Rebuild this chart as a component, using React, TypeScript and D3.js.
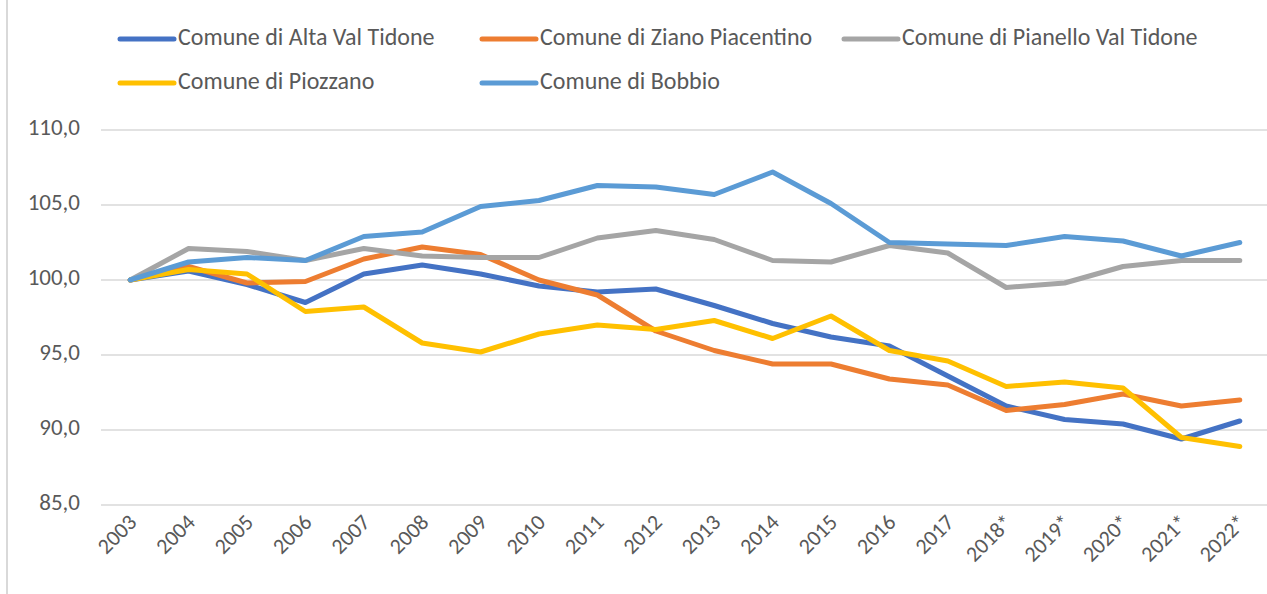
import { useEffect, useRef } from 'react';
import * as d3 from 'd3';

const years = ['2003', '2004', '2005', '2006', '2007', '2008', '2009', '2010', '2011', '2012',
  '2013', '2014', '2015', '2016', '2017', '2018*', '2019*', '2020*', '2021*', '2022*'];

const altaValTidone = [100, 100.6, 99.7, 98.5, 100.4, 101.0, 100.4, 99.6, 99.2, 99.4,
  98.3, 97.1, 96.2, 95.6, 93.6, 91.6, 90.7, 90.4, 89.4, 90.6];
const zianoPiacentino = [100, 100.9, 99.8, 99.9, 101.4, 102.2, 101.7, 100.0, 99.0, 96.6,
  95.3, 94.4, 94.4, 93.4, 93.0, 91.3, 91.7, 92.4, 91.6, 92.0];
const pianelloValTidone = [100, 102.1, 101.9, 101.3, 102.1, 101.6, 101.5, 101.5, 102.8, 103.3,
  102.7, 101.3, 101.2, 102.3, 101.8, 99.5, 99.8, 100.9, 101.3, 101.3];
const piozzano = [100, 100.7, 100.4, 97.9, 98.2, 95.8, 95.2, 96.4, 97.0, 96.7,
  97.3, 96.1, 97.6, 95.3, 94.6, 92.9, 93.2, 92.8, 89.5, 88.9];
const bobbio = [100, 101.2, 101.5, 101.3, 102.9, 103.2, 104.9, 105.3, 106.3, 106.2,
  105.7, 107.2, 105.1, 102.5, 102.4, 102.3, 102.9, 102.6, 101.6, 102.5];

const seriesNames = ['Comune di Alta Val Tidone', 'Comune di Ziano Piacentino', 'Comune di Pianello Val Tidone',
  'Comune di Piozzano', 'Comune di Bobbio'];
const seriesColors = ['#4472C4', '#ED7D31', '#A5A5A5', '#FFC000', '#5B9BD5'];
const yTicks = [85, 90, 95, 100, 105, 110];

export default function App() {
  const svgRef = useRef<SVGSVGElement>(null);

  useEffect(() => {
    if (!svgRef.current) return;
    const svg = d3.select(svgRef.current);
    svg.selectAll('*').remove();

    const width = 1267;
    const height = 594;
    const font = 'Calibri, Carlito, "Open Sans", sans-serif';
    const textColor = '#595959';

    const x = d3.scaleBand<string>().domain(years).range([101, 1269]);
    const y = d3.scaleLinear().domain([85, 110]).range([505, 130]);

    // chart border (left edge only visible)
    svg.append('line')
      .attr('x1', 7).attr('x2', 7).attr('y1', 0).attr('y2', height)
      .attr('stroke', '#D9D9D9').attr('stroke-width', 2);

    // gridlines
    svg.append('g')
      .selectAll('line')
      .data(yTicks)
      .join('line')
      .attr('x1', 101).attr('x2', width)
      .attr('y1', d => y(d)).attr('y2', d => y(d))
      .attr('stroke', '#D9D9D9').attr('stroke-width', 1.5);

    // y labels
    svg.append('g')
      .selectAll('text')
      .data(yTicks)
      .join('text')
      .attr('x', 80)
      .attr('y', d => y(d))
      .attr('text-anchor', 'end')
      .attr('dominant-baseline', 'middle')
      .style('fill', textColor)
      .style('font-family', font)
      .style('font-size', '23px')
      .text(d => d.toFixed(1).replace('.', ','));

    // x labels
    svg.append('g')
      .selectAll('text')
      .data(years)
      .join('text')
      .attr('transform', d => `translate(${x(d)! + x.bandwidth() / 2 + 4}, 520) rotate(-45)`)
      .attr('text-anchor', 'end')
      .attr('dominant-baseline', 'middle')
      .style('fill', textColor)
      .style('font-family', font)
      .style('font-size', '22px')
      .text(d => d);

    const allSeries = [altaValTidone, zianoPiacentino, pianelloValTidone, piozzano, bobbio];
    const line = d3.line<number>()
      .x((_, i) => x(years[i])! + x.bandwidth() / 2)
      .y(d => y(d));

    allSeries.forEach((vals, i) => {
      svg.append('path')
        .datum(vals)
        .attr('d', line)
        .attr('fill', 'none')
        .attr('stroke', seriesColors[i])
        .attr('stroke-width', 5)
        .attr('stroke-linejoin', 'round')
        .attr('stroke-linecap', 'round');
    });

    // legend
    const legendPos = [[118, 39], [480, 39], [842, 39], [118, 83], [480, 83]];
    seriesNames.forEach((name, i) => {
      const [lx, ly] = legendPos[i];
      const g = svg.append('g').attr('transform', `translate(${lx}, ${ly})`);
      g.append('line')
        .attr('x1', 2).attr('x2', 56).attr('y1', 0).attr('y2', 0)
        .attr('stroke', seriesColors[i])
        .attr('stroke-width', 5)
        .attr('stroke-linecap', 'round');
      g.append('text')
        .attr('x', 60)
        .attr('y', 0)
        .attr('dominant-baseline', 'middle')
        .style('fill', textColor)
        .style('font-family', font)
        .style('font-size', '24px')
        .text(name);
    });
  }, []);

  return (
    <svg
      ref={svgRef}
      width={1267}
      height={594}
      style={{ position: 'absolute', left: 0, top: 0, background: '#fff' }}
    />
  );
}
